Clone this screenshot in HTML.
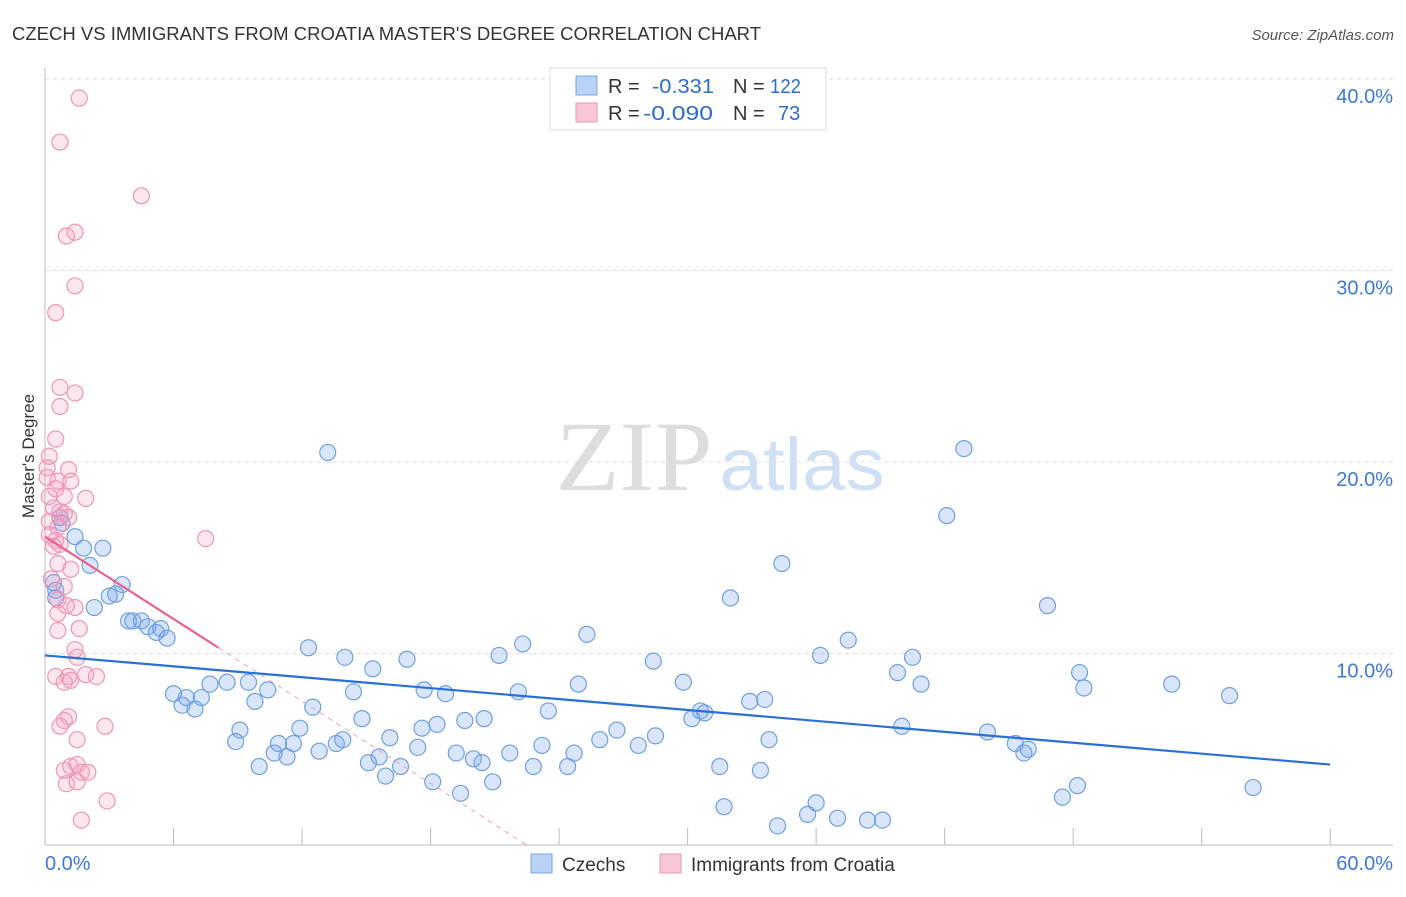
<!DOCTYPE html>
<html><head><meta charset="utf-8"><style>
body{margin:0;background:#fff;width:1406px;height:892px;overflow:hidden;font-family:"Liberation Sans",sans-serif}
</style></head><body>
<svg id="chart" width="1406" height="892" xmlns="http://www.w3.org/2000/svg" font-family="Liberation Sans, sans-serif">
<text x="12" y="40" font-size="18" fill="#333" textLength="749" lengthAdjust="spacingAndGlyphs">CZECH VS IMMIGRANTS FROM CROATIA MASTER'S DEGREE CORRELATION CHART</text>
<text x="1394" y="40" font-size="15" fill="#555" text-anchor="end" font-style="italic">Source: ZipAtlas.com</text>
<g>
<text x="634" y="490" font-size="100" fill="#ddd" font-family="Liberation Serif, serif" text-anchor="middle" textLength="157" lengthAdjust="spacingAndGlyphs">ZIP</text>
<text x="802" y="490" font-size="74" fill="#cfe0f5" text-anchor="middle" textLength="165" lengthAdjust="spacingAndGlyphs">atlas</text>
</g>
<g id="grid"></g><g id="axes"></g><g id="marks"></g>
<g>
<rect x="550" y="68" width="276" height="62" fill="#fff" stroke="#ddd"/>
<rect x="576" y="76" width="21" height="19" fill="#b8d3f5" stroke="#7aa6e0"/>
<rect x="576" y="103" width="21" height="19" fill="#f9c6d5" stroke="#eb97b3"/>
<text x="608" y="93" font-size="20" fill="#333">R =</text>
<text x="652" y="93" font-size="20" fill="#2b6ccf" textLength="62" lengthAdjust="spacingAndGlyphs">-0.331</text>
<text x="733" y="93" font-size="20" fill="#333">N =</text>
<text x="770" y="93" font-size="20" fill="#2b6ccf" textLength="31" lengthAdjust="spacingAndGlyphs">122</text>
<text x="608" y="120" font-size="20" fill="#333">R =</text>
<text x="643" y="120" font-size="20" fill="#2b6ccf" textLength="70" lengthAdjust="spacingAndGlyphs">-0.090</text>
<text x="733" y="120" font-size="20" fill="#333">N =</text>
<text x="778" y="120" font-size="20" fill="#2b6ccf">73</text>
</g>
<g>
<rect x="531" y="854" width="21" height="19" fill="#b8d3f5" stroke="#7aa6e0"/>
<text x="562" y="871" font-size="19" fill="#333">Czechs</text>
<rect x="660" y="854" width="21" height="19" fill="#f9c6d5" stroke="#eb97b3"/>
<text x="691" y="871" font-size="19" fill="#333">Immigrants from Croatia</text>
</g>
<text transform="translate(34,456) rotate(-90)" font-size="17" fill="#333" text-anchor="middle">Master's Degree</text>
</svg>
<script>
const blueX=[13.2,42.9,42.1,34.4,46.8,32.0,25.3,22.3,37.5,12.3,14.0,21.2,28.4,36.2,40.5,16.9,15.3,39.8,48.3,48.5,52.6,55.3,40.9,24.9,29.8,22.1,17.7,18.7,14.4,10.4,9.5,8.5,7.7,6.0,6.6,6.4,7.0,7.3,9.8,12.5,23.5,30.6,30.8,30.2,32.9,33.6,14.8,19.6,20.5,18.3,17.6,11.9,9.1,8.9,26.7,25.9,28.5,27.7,33.8,40.0,44.0,45.3,45.9,45.7,16.1,11.6,10.9,13.6,13.9,10.7,11.3,12.8,17.4,15.6,19.2,20.0,20.4,21.7,23.2,24.7,22.8,24.4,15.1,16.6,10.0,15.9,18.1,20.9,19.4,31.5,33.4,48.2,47.5,56.4,31.7,36.0,35.6,37.0,38.4,39.1,34.2,0.7,0.8,1.4,1.8,2.7,2.1,0.4,0.5,3.6,3.0,3.3,2.3,3.9,4.1,4.5,4.8,5.4,5.2,5.7,0.5];
const blueY=[20.5,20.7,17.2,14.7,12.5,12.9,11.0,10.5,10.7,10.3,9.8,9.9,9.6,9.9,9.8,9.7,9.2,9.0,9.0,8.2,8.4,7.8,8.4,8.4,8.5,8.0,8.1,7.9,8.0,8.1,8.5,8.5,8.4,7.9,7.7,7.3,7.1,7.7,7.5,7.2,7.0,7.0,6.9,6.6,7.5,7.6,6.6,6.5,6.6,6.3,6.1,6.1,6.0,5.4,6.0,5.5,5.7,5.2,5.5,6.2,5.9,5.3,5.0,4.8,5.6,5.3,5.3,5.3,5.5,4.8,4.6,4.9,5.1,4.6,4.8,4.5,4.3,4.8,5.2,4.8,4.1,4.1,4.3,4.1,4.1,3.6,3.3,3.3,2.7,4.1,3.9,3.1,2.5,3.0,2.0,2.2,1.6,1.4,1.3,1.3,1.0,17.1,16.8,16.1,15.5,15.5,14.6,13.7,13.3,13.6,13.0,13.1,12.4,11.7,11.7,11.7,11.4,11.3,11.1,10.8,12.9];
const pinkX=[1.6,0.7,4.5,1.4,1.0,1.4,0.5,0.7,1.4,0.7,0.5,0.2,0.1,1.1,0.1,0.6,1.2,0.5,0.9,1.9,0.2,0.4,0.7,0.9,1.1,0.2,0.6,0.2,0.5,0.4,0.7,7.5,0.6,1.2,0.3,0.9,0.6,1.0,1.4,0.6,1.6,0.6,1.4,1.5,0.5,1.1,2.4,1.9,0.9,1.2,1.1,0.9,0.7,2.8,1.5,1.2,1.5,0.9,1.7,2.0,1.0,1.5,2.9,1.7];
const pinkY=[39.0,36.7,33.9,32.0,31.8,29.2,27.8,23.9,23.6,22.9,21.2,20.3,19.7,19.6,19.2,19.0,19.0,18.6,18.2,18.1,18.2,17.6,17.4,17.3,17.1,16.9,16.6,16.2,15.9,15.6,15.7,16.0,14.7,14.4,13.9,13.5,12.8,12.5,12.4,12.1,11.3,11.2,10.2,9.8,8.8,8.8,8.8,8.9,8.5,8.6,6.7,6.5,6.2,6.2,5.5,4.1,4.2,3.9,3.8,3.8,3.2,3.3,2.3,1.3];
const blueTrend=[9.9,4.2];
const pinkTrend=[16.1,-0.716];
const yTicks=[10,20,30,40];
const xTickVals=[0,6,12,18,24,30,36,42,48,54,60];
const X=v=>45+v*21.42, Y=v=>845-v*19.15;
const NS="http://www.w3.org/2000/svg";
function mk(parent,tag,attrs){const e=document.createElementNS(NS,tag);for(const k in attrs)e.setAttribute(k,attrs[k]);document.getElementById(parent).appendChild(e);return e;}
yTicks.forEach(t=>{
 const l=mk('grid','line',{x1:45,x2:1393,y1:Y(t),y2:Y(t),stroke:'#ddd','stroke-dasharray':'4,4'});
 
 
 const tx=mk('grid','text',{x:1393,y:Y(t)+24,'font-size':20,fill:'#3b78d8','text-anchor':'end'});
 tx.textContent=t.toFixed(1)+'%';
 
 
});
const ax=mk('axes','line',{x1:45,x2:45,y1:68,y2:845,stroke:'#bbb'});


const bx=mk('axes','line',{x1:45,x2:1393,y1:845,y2:845,stroke:'#bbb'});


xTickVals.forEach(t=>{
 const l=mk('axes','line',{x1:X(t),x2:X(t),y1:828,y2:845,stroke:'#bbb'});
 
 
});
[[0,'start',45],[60,'end',1393]].forEach(([v,a,px])=>{
 const tx=mk('axes','text',{x:px,y:870,'font-size':20,fill:'#3b78d8','text-anchor':a});
 tx.textContent=v.toFixed(1)+'%';
 
 
});
blueX.forEach((v,i)=>{
 const c=mk('marks','circle',{cx:X(v),cy:Y(blueY[i]),r:8,fill:'rgba(120,165,235,0.28)',stroke:'#6f9fe0','stroke-width':1.2});
 
 
});
pinkX.forEach((v,i)=>{
 const c=mk('marks','circle',{cx:X(v),cy:Y(pinkY[i]),r:8,fill:'rgba(245,160,190,0.25)',stroke:'#ef94b4','stroke-width':1.2});
 
 
});
const bl=mk('marks','line',{x1:X(0),y1:Y(blueTrend[0]),x2:X(60),y2:Y(blueTrend[1]),stroke:'#2a6fd6','stroke-width':2.2});


const pEnd=-pinkTrend[0]/pinkTrend[1];
const pd=mk('marks','line',{x1:X(8.1),y1:Y(pinkTrend[0]+pinkTrend[1]*8.1),x2:X(pEnd),y2:Y(0),stroke:'#f0a0bb','stroke-width':1,'stroke-dasharray':'5,5'});


const pl=mk('marks','line',{x1:X(0),y1:Y(pinkTrend[0]),x2:X(8.1),y2:Y(pinkTrend[0]+pinkTrend[1]*8.1),stroke:'#e8628f','stroke-width':2.2});


</script>
</body></html>
